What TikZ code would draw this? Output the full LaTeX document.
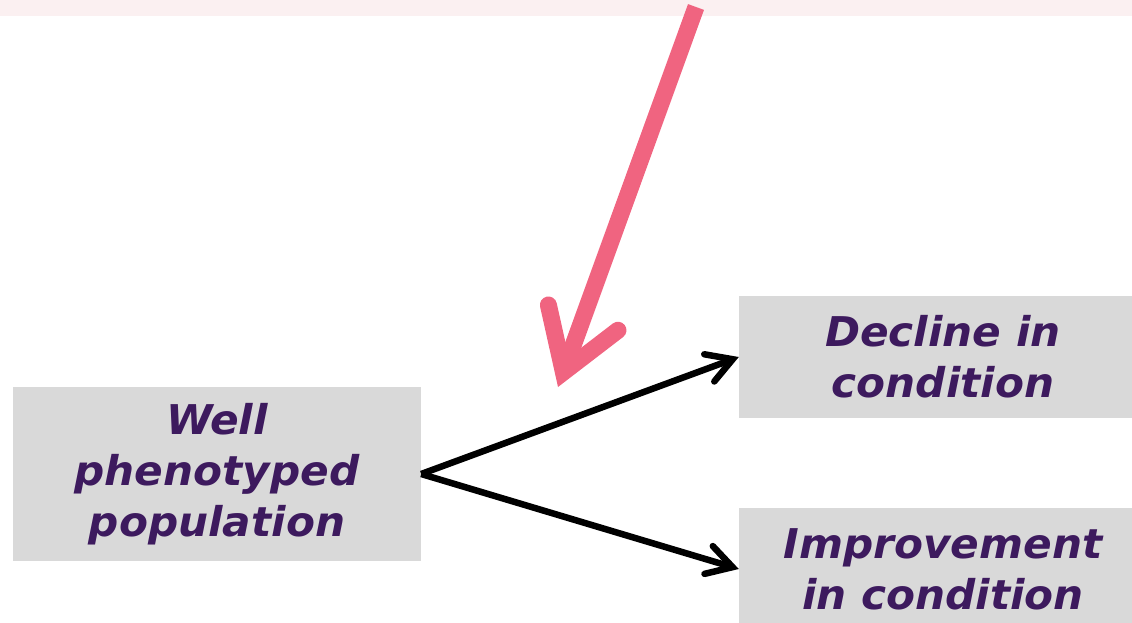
\documentclass[tikz,border=0pt]{standalone}
\usepackage{fontspec}
\setmainfont[FakeStretch=1.03]{DejaVu Sans}
\usetikzlibrary{arrows.meta}
\definecolor{boxgray}{HTML}{D9D9D9}
\definecolor{txtpurple}{HTML}{3D1A5E}
\definecolor{pinkarr}{HTML}{F06480}
\definecolor{bandpink}{HTML}{FBF0F1}
\begin{document}
\begin{tikzpicture}[x=1pt,y=-1pt,
  box/.style={fill=boxgray, draw=none, minimum width=408pt, inner sep=0pt,
    align=center, text=txtpurple,
    font=\fontsize{41}{51}\selectfont\bfseries\itshape},
  blackarrow/.style={line width=6.5pt,
    -{Straight Barb[length=25pt,width=29pt,line cap=round,line join=miter]}},
  pinkarrow/.style={line width=17pt, pinkarr,
    -{Straight Barb[length=58pt,width=74pt,line cap=round,line join=miter]}}]
\useasboundingbox (0,0) rectangle (1132,623);
\fill[bandpink] (0,0) rectangle (1132,16);
\node[box, minimum height=174pt] (pop) at (217,474) {Well\\phenotyped\\population};
\node[box, minimum height=122pt] (dec) at (943,357) {Decline in\\condition};
\node[box, minimum height=122pt] (imp) at (943,569) {Improvement\\in condition};
\draw[blackarrow] (pop.east) -- (dec.west);
\draw[blackarrow] (pop.east) -- (imp.west);
\coordinate (ptail) at (696,7);
\coordinate (ptip) at (558,387);
\draw[pinkarrow] (ptail) -- (ptip);
\end{tikzpicture}
\end{document}
